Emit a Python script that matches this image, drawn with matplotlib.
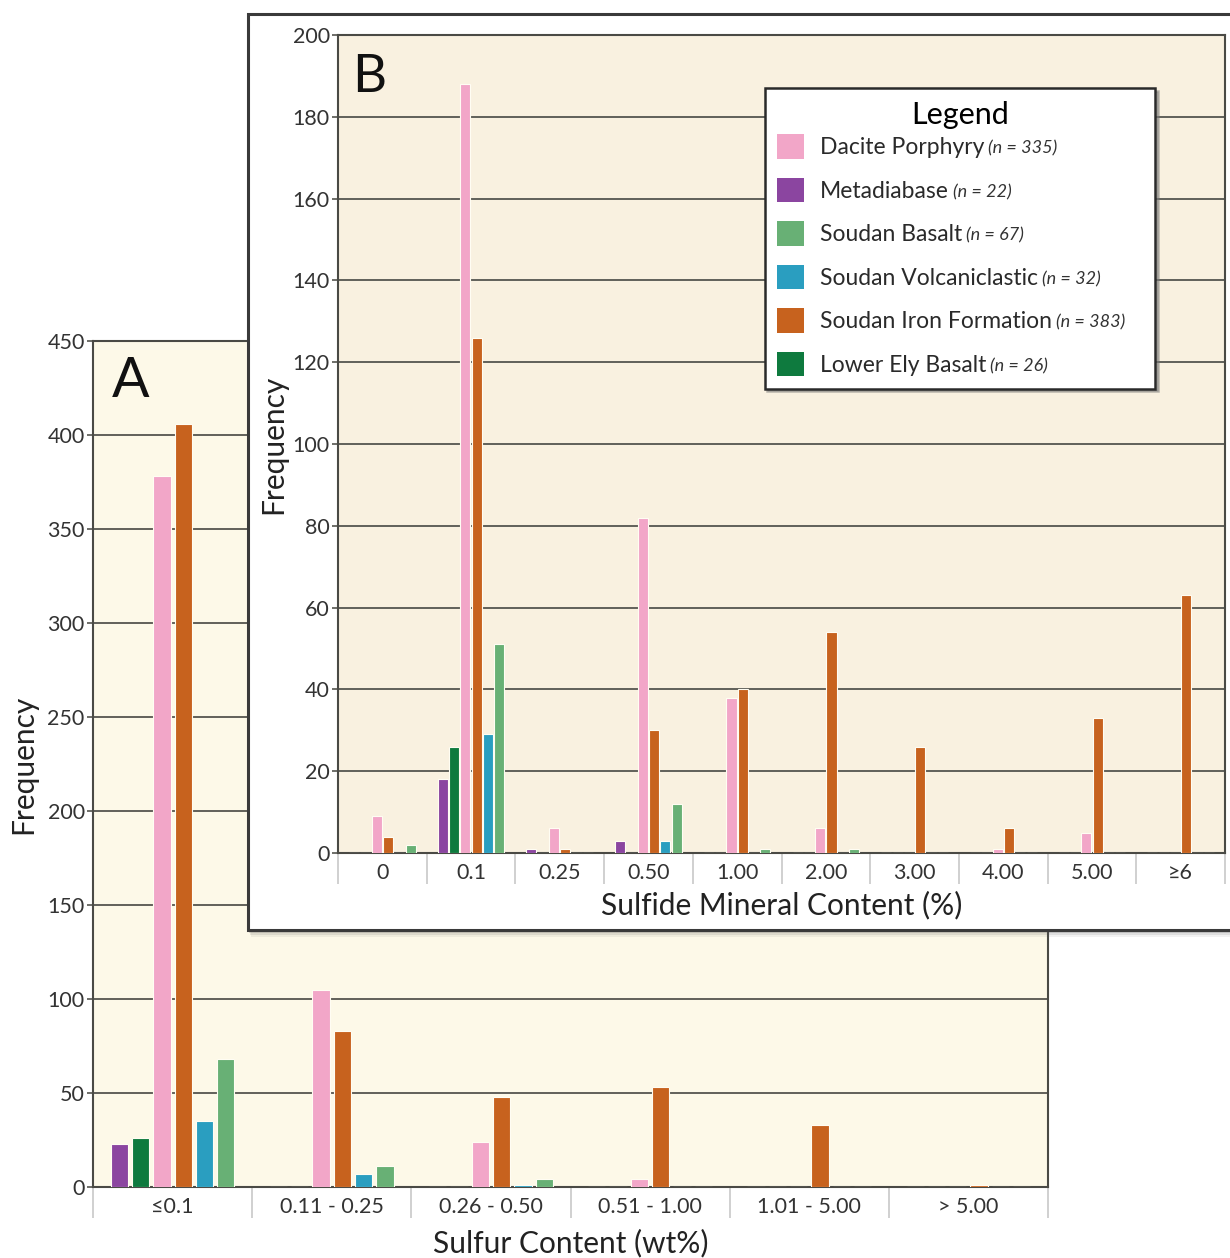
import matplotlib
matplotlib.use('Agg')
import matplotlib.pyplot as plt
from matplotlib.patches import Rectangle, Patch
import numpy as np

plt.rcParams['font.family'] = ['Lato', 'DejaVu Sans']

# ---- data ----
series = ['Metadiabase', 'Lower Ely Basalt', 'Dacite Porphyry',
          'Soudan Iron Formation', 'Soudan Volcaniclastic', 'Soudan Basalt']
colors = ['#8b45a0', '#0e7a3e', '#f2a6c8', '#c7621e', '#2a9ec0', '#68b075']
n_counts = ['22', '26', '335', '383', '32', '67']
legend_order = [2, 0, 5, 4, 3, 1]

cats_a = ['≤0.1', '0.11 - 0.25', '0.26 - 0.50', '0.51 - 1.00', '1.01 - 5.00', '> 5.00']
meta_a = [23, 0, 0, 0, 0, 0]
ely_a = [26, 0, 0, 0, 0, 0]
dacite_a = [378, 105, 24, 4, 0, 0]
iron_a = [406, 83, 48, 53, 33, 1]
volc_a = [35, 7, 1, 0, 0, 0]
basalt_a = [68, 11, 4, 0, 0, 0]

cats_b = ['0', '0.1', '0.25', '0.50', '1.00', '2.00', '3.00', '4.00', '5.00', '≥6']
meta_b = [0, 18, 1, 3, 0, 0, 0, 0, 0, 0]
ely_b = [0, 26, 0, 0, 0, 0, 0, 0, 0, 0]
dacite_b = [9, 188, 6, 82, 38, 6, 0, 1, 5, 0]
iron_b = [4, 126, 1, 30, 40, 54, 26, 6, 33, 63]
volc_b = [0, 29, 0, 3, 0, 0, 0, 0, 0, 0]
basalt_b = [2, 51, 0, 12, 1, 1, 0, 0, 0, 0]

vals_a = [meta_a, ely_a, dacite_a, iron_a, volc_a, basalt_a]
vals_b = [meta_b, ely_b, dacite_b, iron_b, volc_b, basalt_b]

W, H = 1230, 1258
fig = plt.figure(figsize=(W / 100, H / 100), dpi=100)
fig.patch.set_facecolor('white')

def fx(px):
    return px / W

def fy(py):
    return 1 - py / H

grid_c = '#55554f'

def style_axes(ax, ncat, cats, slot, bw, vals, ymax, ystep, face, labfs, tickfs, xlabel):
    ax.set_facecolor(face)
    x = np.arange(ncat)
    for j, v in enumerate(vals):
        ax.bar(x + (j - 2.5) * slot, v, width=bw, color=colors[j],
               edgecolor='#fffdf3', linewidth=0.8, zorder=3)
    ax.set_xlim(-0.5, ncat - 0.5)
    ax.set_ylim(0, ymax)
    ax.set_yticks(np.arange(0, ymax + 1, ystep))
    ax.yaxis.grid(True, color=grid_c, linewidth=1.3)
    ax.set_axisbelow(True)
    ax.set_xticks(x)
    ax.set_xticklabels(cats, fontsize=tickfs, color='#333333')
    ax.set_xticks(np.arange(-0.5, ncat, 1.0), minor=True)
    ax.tick_params(axis='x', which='major', length=0, pad=7)
    ax.tick_params(axis='x', which='minor', length=22, width=1.2, color='#c8c8c8')
    ax.tick_params(axis='y', length=4, width=1.2, color=grid_c, labelsize=tickfs,
                   labelcolor='#333333', pad=2)
    for s in ax.spines.values():
        s.set_color('#4a4a45')
        s.set_linewidth(1.5)
    ax.set_xlabel(xlabel, fontsize=labfs, color='#222222', labelpad=2)
    ax.set_ylabel('Frequency', fontsize=labfs, color='#222222')

# ---- Panel A ----
axA = fig.add_axes([fx(93), fy(1187), fx(1048) - fx(93), fy(341) - fy(1187)], zorder=0)
style_axes(axA, 6, cats_a, 0.134, 0.108, vals_a, 450, 50, '#fdf9e8', 21.5, 15.5,
           'Sulfur Content (wt%)')
axA.xaxis.labelpad = 5
axA.yaxis.labelpad = 7
axA.text(0.02, 0.982, 'A', transform=axA.transAxes, fontsize=40, va='top', ha='left',
         color='#111111')

# ---- Inset box for Panel B ----
for k, a in [(7, 0.08), (5, 0.12), (3, 0.2)]:
    fig.patches.append(Rectangle((fx(248 + k * 0.4), fy(930 + k)), 1.0, fy(14) - fy(930),
                                 transform=fig.transFigure, facecolor='#555555', alpha=a,
                                 edgecolor='none', zorder=1))
fig.patches.append(Rectangle((fx(248), fy(930)), 1.0, fy(14) - fy(930),
                             transform=fig.transFigure, facecolor='white',
                             edgecolor='#3a3a3a', linewidth=2.2, zorder=1.5))

# ---- Panel B ----
axB = fig.add_axes([fx(338), fy(853), fx(1225) - fx(338), fy(35) - fy(853)], zorder=2)
style_axes(axB, 10, cats_b, 0.1275, 0.113, vals_b, 200, 20, '#f9f1e0', 21.5, 15.5,
           'Sulfide Mineral Content (%)')
axB.yaxis.labelpad = 4
axB.text(0.016, 0.977, 'B', transform=axB.transAxes, fontsize=38, va='top', ha='left',
         color='#111111')

handles = [Patch(facecolor=colors[i], edgecolor='none') for i in legend_order]
labels = [series[i] for i in legend_order]
leg = axB.legend(handles, labels, title='Legend', loc='upper left',
                 bbox_to_anchor=(0.481, 0.935, 0.44, 0.0), mode='expand',
                 fontsize=16.5, title_fontsize=22, handlelength=1.15, handleheight=1.25,
                 labelspacing=0.84, handletextpad=0.7, borderpad=0.55,
                 frameon=True, fancybox=False, shadow={'color': '#777777', 'alpha': 0.5},
                 framealpha=1, borderaxespad=0)
leg.get_frame().set_edgecolor('#2a2a2a')
leg.get_frame().set_linewidth(1.8)
leg._legend_box.sep = 4
for t in leg.get_texts():
    t.set_color('#2a2a2a')
for t, i in zip(leg.get_texts(), legend_order):
    axB.annotate('(n = %s)' % n_counts[i], xy=(1, 0), xycoords=t, xytext=(3, 1),
                 textcoords='offset points', ha='left', va='bottom', fontsize=13,
                 style='italic', color='#333333', zorder=10, annotation_clip=False)

fig.savefig('out.png', dpi=100, facecolor='white')
